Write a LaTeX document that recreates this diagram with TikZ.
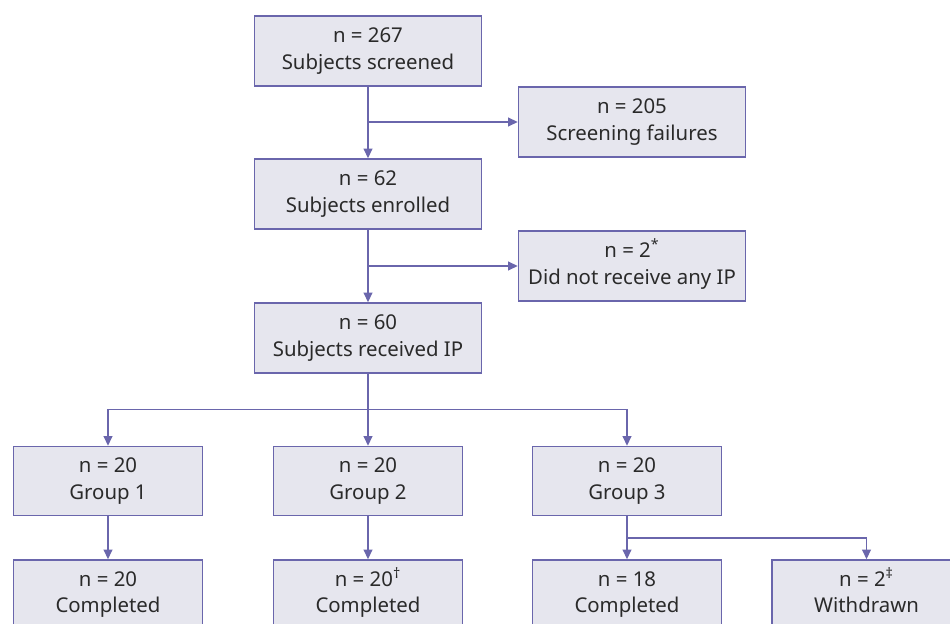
\documentclass[tikz,border=0pt]{standalone}
\usepackage{fontspec}
\setmainfont{Noto Sans}
\usepackage{xcolor}
\usetikzlibrary{arrows.meta,calc}
\definecolor{boxline}{HTML}{6A66AC}
\definecolor{boxfill}{HTML}{E6E6EE}
\definecolor{boxtext}{HTML}{2A2A2A}
\newcommand{\fnmark}[1]{\smash{\textsuperscript{#1}}}

\begin{document}
\begin{tikzpicture}[
  flowbox/.style={draw=boxline, fill=boxfill, line width=0.85pt, align=center,
    text=boxtext, font=\fontsize{11.6}{15.2}\selectfont,
    execute at end node={\vphantom{p}},
    minimum width=4.54cm, minimum height=1.4cm, inner sep=0pt},
  groupbox/.style={flowbox, minimum width=3.78cm, minimum height=1.38cm},
  flow/.style={draw=boxline, line width=0.85pt, -{Triangle[length=5.5pt,width=5pt]}}]
\useasboundingbox (0,0) rectangle (19,-12.48);
\clip (0,0) rectangle (19,-12.48);

% main column
\node[flowbox] (screened) at (7.36,-1.02) {n = 267\\Subjects screened};
\node[flowbox] (fail) at (12.64,-2.44) {n = 205\\Screening failures};
\node[flowbox] (enrolled) at (7.36,-3.88) {n = 62\\Subjects enrolled};
\node[flowbox] (noip) at (12.64,-5.32) {n = 2\fnmark{*}\\Did not receive any IP};
\node[flowbox] (received) at (7.36,-6.76) {n = 60\\Subjects received IP};

% groups
\node[groupbox] (group1) at (2.16,-9.62) {n = 20\\Group 1};
\node[groupbox] (group2) at (7.36,-9.62) {n = 20\\Group 2};
\node[groupbox] (group3) at (12.54,-9.62) {n = 20\\Group 3};

% outcome
\node[groupbox] (done1) at (2.16,-11.89) {n = 20\\Completed};
\node[groupbox] (done2) at (7.36,-11.89) {n = 20\fnmark{†}\\Completed};
\node[groupbox] (done3) at (12.54,-11.89) {n = 18\\Completed};
\node[groupbox] (withdrawn) at (17.33,-11.89) {n = 2\fnmark{‡}\\Withdrawn};

\coordinate (split1) at (screened.south |- fail.west);
\coordinate (split2) at (enrolled.south |- noip.west);
\coordinate (split3) at ($(received.south)!0.5!(group2.north)$);
\coordinate (split4) at ($(group3.south)!0.5!(done3.north)$);

\draw[flow] (screened) -- (enrolled);
\draw[flow] (split1) -- (fail);
\draw[flow] (enrolled) -- (received);
\draw[flow] (split2) -- (noip);
\draw[flow] (received) -- (group2);
\draw[flow] (split3) -| (group1);
\draw[flow] (split3) -| (group3);
\draw[flow] (group1) -- (done1);
\draw[flow] (group2) -- (done2);
\draw[flow] (group3) -- (done3);
\draw[flow] (split4) -| (withdrawn);
\end{tikzpicture}
\end{document}
